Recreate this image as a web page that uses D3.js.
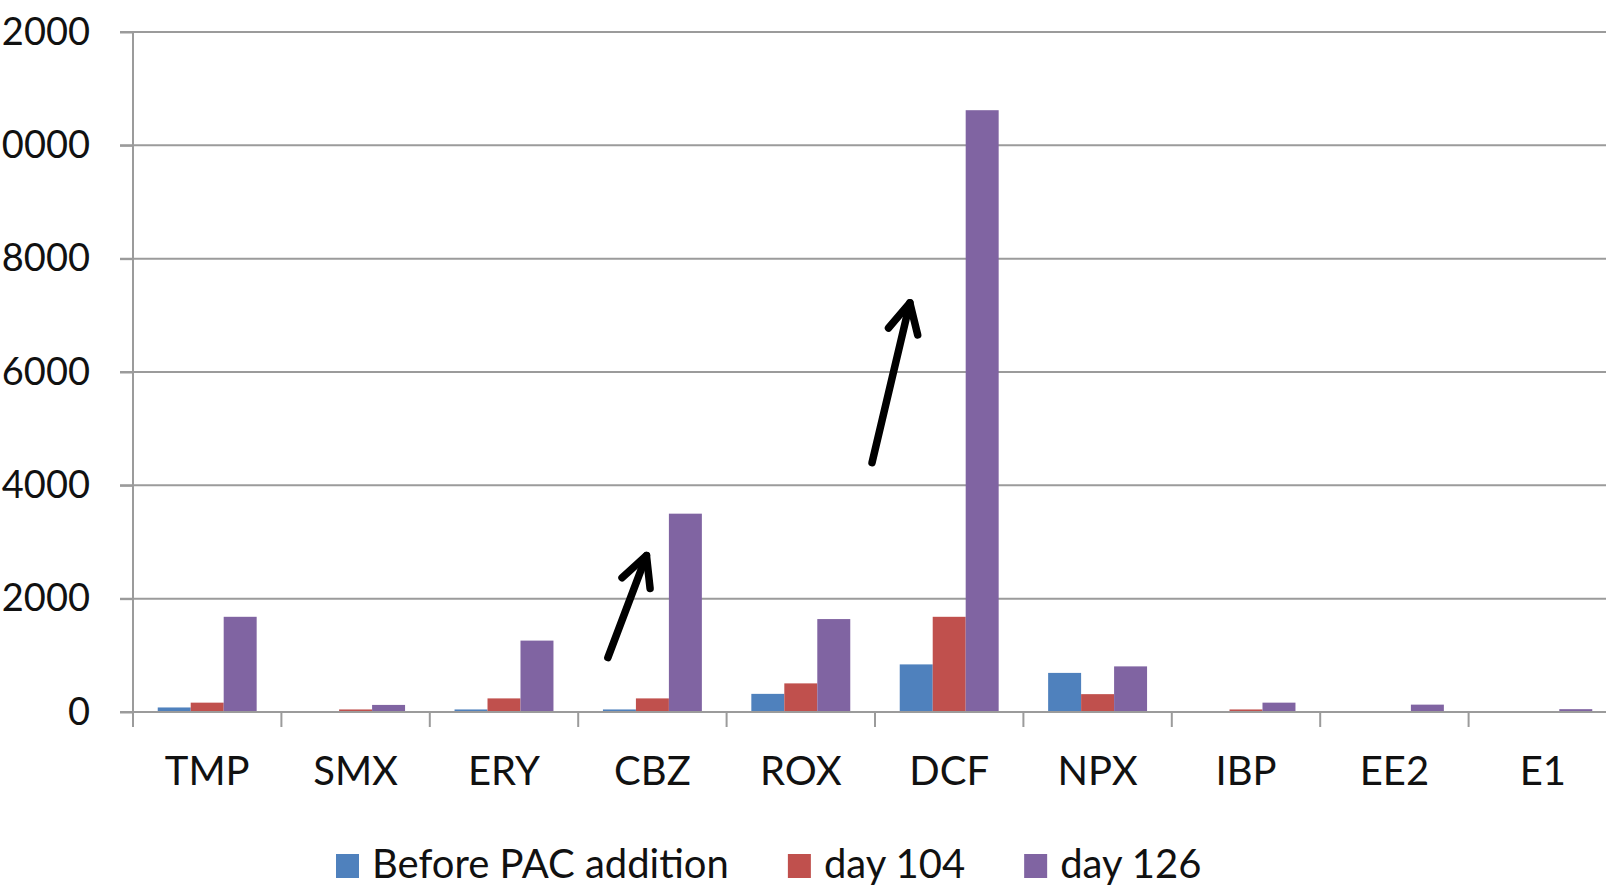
<!DOCTYPE html>
<html>
<head>
<meta charset="utf-8">
<script src="https://cdn.jsdelivr.net/npm/d3@7"></script>
<style>
  html, body { margin: 0; padding: 0; background: #fff; }
  svg { display: block; overflow: hidden; }
  text { font-family: Lato, "Open Sans", sans-serif; fill: #111; }
</style>
</head>
<body>
<svg id="chart" width="1606" height="887"></svg>
<script>
// Compound concentrations per sampling campaign
const categories = ["TMP", "SMX", "ERY", "CBZ", "ROX", "DCF", "NPX", "IBP", "EE2", "E1"];
const seriesNames = ["Before PAC addition", "day 104", "day 126"];
const beforePAC = [80, 0, 45, 45, 320, 840, 690, 0, 0, 0];
const day104 = [165, 45, 240, 240, 505, 1680, 315, 45, 0, 0];
const day126 = [1680, 125, 1260, 3500, 1640, 10620, 805, 165, 130, 50];
const yTicks = [0, 2000, 4000, 6000, 8000, 10000, 12000];
const colors = ["#4F81BD", "#C0504D", "#8064A2"];

// Annotation arrows: position within a category band (0..1) and value on the y scale
const arrows = [
  { cat: "CBZ", from: [0.20, 960], to: [0.46, 2760] },
  { cat: "DCF", from: [-0.02, 4400], to: [0.235, 7220] }
];

const seriesValues = [beforePAC, day104, day126];
const rows = categories.map((c, i) => ({
  cat: c,
  vals: seriesNames.map((s, k) => ({ key: s, value: seriesValues[k][i], k }))
}));

const svg = d3.select("#chart");
const plot = { left: 133, top: 32, right: 1617, bottom: 712 };

const x = d3.scaleBand().domain(categories).range([plot.left, plot.right]).paddingInner(0).paddingOuter(0);
const xs = d3.scaleBand().domain(seriesNames).range([0, x.bandwidth()]).paddingInner(0).paddingOuter(0.75);
const y = d3.scaleLinear().domain([0, 12000]).range([plot.bottom, plot.top]);

const axisColor = "#9b9b9b";

// Horizontal gridlines
svg.append("g")
  .selectAll("line")
  .data(yTicks.filter(t => t > 0))
  .join("line")
  .attr("x1", plot.left - 13)
  .attr("x2", 1606)
  .attr("y1", d => y(d))
  .attr("y2", d => y(d))
  .attr("stroke", axisColor)
  .attr("stroke-width", 2);

// Bars
svg.append("g")
  .selectAll("g")
  .data(rows)
  .join("g")
  .attr("transform", d => `translate(${x(d.cat)},0)`)
  .selectAll("rect")
  .data(d => d.vals)
  .join("rect")
  .attr("x", d => xs(d.key))
  .attr("width", xs.bandwidth())
  .attr("y", d => y(d.value))
  .attr("height", d => y(0) - y(d.value))
  .attr("fill", d => colors[d.k]);

// Y axis
const yAxis = svg.append("g")
  .attr("transform", `translate(${plot.left},0)`)
  .call(d3.axisLeft(y).tickValues(yTicks).tickSize(13).tickSizeOuter(0).tickPadding(30).tickFormat(d3.format("d")));
yAxis.select(".domain").attr("stroke", axisColor).attr("stroke-width", 2)
  .attr("d", `M0,${plot.top}V${plot.bottom + 15}`);
yAxis.selectAll(".tick line").attr("stroke", axisColor).attr("stroke-width", 2);
yAxis.selectAll(".tick text").attr("font-size", 38).attr("fill", "#111")
  .style("font-family", "Lato, 'Open Sans', sans-serif");

// X axis baseline, category separators and labels
const xAxis = svg.append("g").attr("transform", `translate(0,${plot.bottom})`);
xAxis.append("line")
  .attr("x1", plot.left - 13).attr("x2", 1606)
  .attr("y1", 0).attr("y2", 0)
  .attr("stroke", axisColor).attr("stroke-width", 2);
xAxis.selectAll("line.sep")
  .data(categories.slice(1))
  .join("line")
  .attr("class", "sep")
  .attr("x1", d => x(d)).attr("x2", d => x(d))
  .attr("y1", 0).attr("y2", 15)
  .attr("stroke", axisColor).attr("stroke-width", 2);
xAxis.selectAll("text.cat")
  .data(categories)
  .join("text")
  .attr("class", "cat")
  .attr("x", d => x(d) + x.bandwidth() / 2)
  .attr("y", 73)
  .attr("text-anchor", "middle")
  .attr("font-size", 40)
  .text(d => d);

// Annotation arrows
const arrowG = svg.append("g")
  .attr("stroke", "#000").attr("stroke-width", 7.5)
  .attr("stroke-linecap", "round").attr("stroke-linejoin", "round")
  .attr("fill", "none");
arrows.forEach(a => {
  const x0 = x(a.cat) + a.from[0] * x.bandwidth(), y0 = y(a.from[1]);
  const x1 = x(a.cat) + a.to[0] * x.bandwidth(), y1 = y(a.to[1]);
  const ang = Math.atan2(y0 - y1, x0 - x1);
  const len = 33, spread = 27 * Math.PI / 180;
  const b1 = [x1 + len * Math.cos(ang - spread), y1 + len * Math.sin(ang - spread)];
  const b2 = [x1 + len * Math.cos(ang + spread), y1 + len * Math.sin(ang + spread)];
  arrowG.append("path").attr("d", `M${x0},${y0}L${x1},${y1}`);
  arrowG.append("path").attr("d", `M${b1[0]},${b1[1]}L${x1},${y1}L${b2[0]},${b2[1]}`);
});

// Legend
const legend = svg.append("g").attr("transform", "translate(336,878)");
let cursor = 0;
seriesNames.forEach((name, k) => {
  const item = legend.append("g").attr("transform", `translate(${cursor},0)`);
  item.append("rect").attr("x", 0).attr("y", -24).attr("width", 23).attr("height", 24).attr("fill", colors[k]);
  const t = item.append("text").attr("x", 36).attr("y", 0).attr("font-size", 40).text(name);
  cursor += 36 + t.node().getComputedTextLength() + 59;
});
</script>
</body>
</html>
